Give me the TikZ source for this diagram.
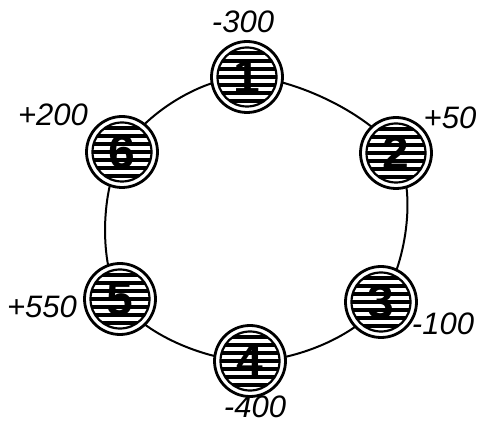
\documentclass[tikz,border=0pt]{standalone}
\usepackage{fontspec}
\setmainfont{Liberation Sans}
\usetikzlibrary{backgrounds,calc}
\begin{document}
\begin{tikzpicture}[x=1pt,y=1pt,
  coin/.style={circle, draw, line width=2.8pt, fill=white, minimum size=71pt, inner sep=0pt},
  ring/.style={line width=2pt},
  val/.style={font=\fontsize{31}{31}\selectfont\itshape, inner sep=0pt},
  digit/.style={font=\fontsize{48}{48}\selectfont\bfseries, inner sep=0pt}]
\useasboundingbox (0,0) rectangle (482,426);
% coins (y = 426 - image y)
\node[coin] (n1) at (247,349) {};
\node[coin] (n2) at (396,273) {};
\node[coin] (n3) at (381,124) {};
\node[coin] (n4) at (250,65) {};
\node[coin] (n5) at (120,127) {};
\node[coin] (n6) at (122,274) {};
\begin{pgfonlayer}{background}
\draw[ring] plot[smooth cycle, tension=0.6] coordinates {(n1.center) (n2.center) (n3.center) (n4.center) (n5.center) (n6.center)};
\end{pgfonlayer}
\foreach \n/\d in {n1/1,n2/2,n3/3,n4/4,n5/5,n6/6}{
  \begin{scope}
    \clip (\n.center) circle (29);
    \foreach \k in {-4,...,4}{
      \fill ($(\n.center)+(-32,\k*8-2.2)$) rectangle ($(\n.center)+(32,\k*8+2.2)$);
    }
  \end{scope}
  \draw[line width=2.2pt] (\n.center) circle (29.5);
  \node[digit] (d\d) at (\n.center) {\d};
}
\node[val] (l1) at (243,404) {-300};
\node[val] (l2) at (450,308) {+50};
\node[val] (l3) at (443,102) {-100};
\node[val] (l4) at (255,19) {-400};
\node[val] (l5) at (42,119) {+550};
\node[val] (l6) at (53,311) {+200};
\end{tikzpicture}
\end{document}
